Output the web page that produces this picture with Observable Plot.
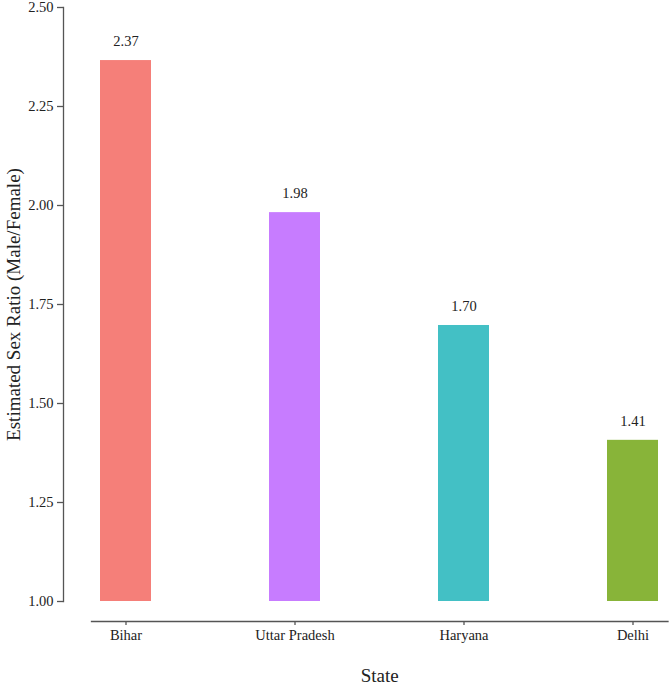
<!DOCTYPE html>
<html>
<head>
<meta charset="utf-8">
<script src="https://cdn.jsdelivr.net/npm/d3@7"></script>
<script src="https://cdn.jsdelivr.net/npm/@observablehq/plot@0.6"></script>
<style>
  html, body { margin: 0; padding: 0; background: #fff; }
  #chart svg { display: block; }
  #chart svg text { font-family: "Liberation Serif", "Times New Roman", serif !important; }
</style>
</head>
<body>
<div id="chart"></div>
<script>
const states = ["Bihar", "Uttar Pradesh", "Haryana", "Delhi"];
const ratios = [2.366, 1.982, 1.697, 1.407];
const barColors = ["#F57F79", "#C77CFF", "#43C0C5", "#88B439"];
const yTicks = [1.00, 1.25, 1.50, 1.75, 2.00, 2.25, 2.50];
const yLabel = "Estimated Sex Ratio (Male/Female)";
const xLabel = "State";

const data = states.map((s, i) => ({state: s, ratio: ratios[i], color: barColors[i]}));

const axisColor = "#555";
const textColor = "#222";

const chart = Plot.plot({
  width: 669,
  height: 685,
  marginLeft: 91,
  marginRight: 1.5,
  marginTop: 7,
  marginBottom: 84,
  style: {fontFamily: "Liberation Serif, serif", fontSize: "14px", color: textColor, background: "#fff"},
  x: {type: "band", domain: states, paddingInner: 0.7, paddingOuter: 0.047, axis: null},
  y: {domain: [1, 2.5], axis: null},
  marks: [
    Plot.barY(data, {x: "state", y1: 1, y2: "ratio", fill: "color"}),
    Plot.text(data, {x: "state", y: "ratio", text: d => d.ratio.toFixed(2), dy: -19, fontSize: 14.5, fill: textColor}),
    Plot.frame({anchor: "left", dx: -28, stroke: axisColor, strokeWidth: 1.3}),
    Plot.axisY({ticks: yTicks, tickFormat: d3.format(".2f"), dx: -28, tickSize: 6, tickPadding: 4, label: null, stroke: axisColor, strokeWidth: 1.3, fill: textColor, fontSize: 14.5}),
    Plot.frame({anchor: "bottom", dy: 20, stroke: axisColor, strokeWidth: 1.3}),
    Plot.axisX({dy: 20, tickSize: 4, tickPadding: 4, label: null, stroke: axisColor, strokeWidth: 1.3, fill: textColor, fontSize: 14.5}),
    Plot.text([yLabel], {frameAnchor: "left", textAnchor: "middle", rotate: -90, dx: -78, fontSize: 19, fill: textColor}),
    Plot.text([xLabel], {frameAnchor: "bottom", textAnchor: "middle", dy: 80, fontSize: 19, fill: textColor})
  ]
});
document.getElementById("chart").append(chart);
</script>
</body>
</html>
